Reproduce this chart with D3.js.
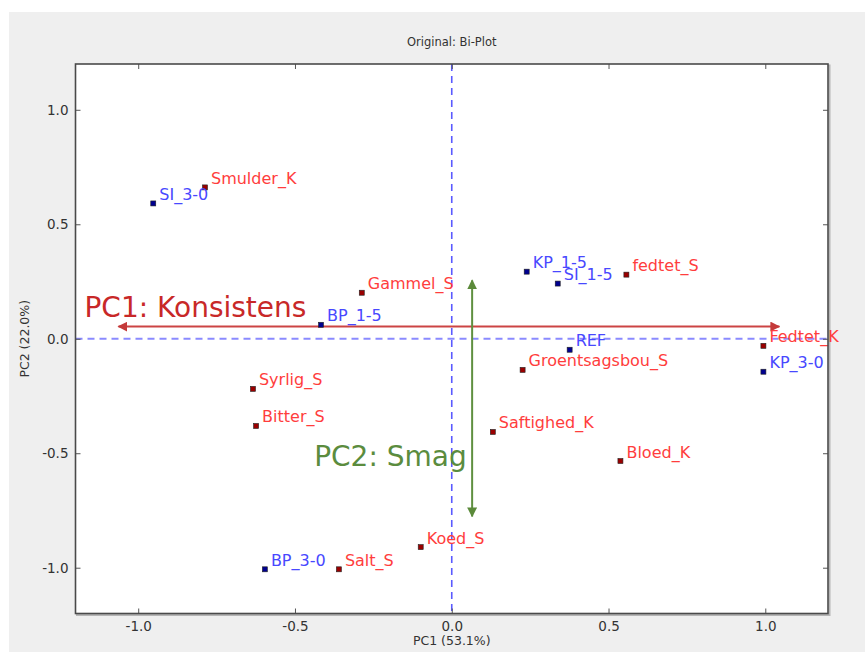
<!DOCTYPE html>
<html>
<head>
<meta charset="utf-8">
<script src="https://cdn.jsdelivr.net/npm/d3@7"></script>
<style>
  body { margin: 0; background: #ffffff; }
  text { font-family: "DejaVu Sans", sans-serif; }
</style>
</head>
<body>
<div class="chartbox"></div>
<script>
// scores (samples) - blue
var scoreNames = ["SI_3-0", "BP_1-5", "KP_1-5", "SI_1-5", "REF", "KP_3-0", "BP_3-0"];
var scoreX = [-0.952, -0.417, 0.239, 0.338, 0.376, 0.994, -0.596];
var scoreY = [0.591, 0.061, 0.293, 0.241, -0.048, -0.144, -1.007];

// loadings (attributes) - red
var loadNames = ["Smulder_K", "Gammel_S", "fedtet_S", "Fedtet_K", "Groentsagsbou_S", "Syrlig_S",
                 "Bitter_S", "Saftighed_K", "Bloed_K", "Koed_S", "Salt_S"];
var loadX = [-0.787, -0.287, 0.557, 0.994, 0.226, -0.634, -0.624, 0.131, 0.538, -0.099, -0.360];
var loadY = [0.661, 0.201, 0.280, -0.031, -0.136, -0.219, -0.381, -0.407, -0.534, -0.910, -1.007];

// annotation arrows
var pc1Arrow = [[-1.063, 0.053], [1.045, 0.053]];
var pc2Arrow = [[0.065, 0.255], [0.065, -0.776]];

var tickValues = [-1.0, -0.5, 0.0, 0.5, 1.0];
var axisLimits = [-1.2, 1.2];

var width = 865, height = 652;
var pLeft = 75.5, pRight = 828, pTop = 64, pBottom = 613.5;

var svg = d3.select(".chartbox")
    .append("svg")
    .attr("width", width)
    .attr("height", height);

// figure background
svg.append("rect")
    .attr("x", 9).attr("y", 12)
    .attr("width", width - 9).attr("height", height - 12)
    .style("fill", "#efefef");

var x = d3.scaleLinear().domain(axisLimits).range([pLeft, pRight]);
var y = d3.scaleLinear().domain(axisLimits).range([pBottom, pTop]);

// plot area with a soft shadow on the frame
svg.append("rect")
    .attr("x", pLeft + 1.5).attr("y", pTop + 1.5)
    .attr("width", pRight - pLeft).attr("height", pBottom - pTop)
    .style("fill", "none").style("stroke", "#b5b5b5").style("stroke-width", 2);
svg.append("rect")
    .attr("x", pLeft).attr("y", pTop)
    .attr("width", pRight - pLeft).attr("height", pBottom - pTop)
    .style("fill", "#ffffff");

// zero lines
svg.append("line")
    .attr("x1", x(0)).attr("x2", x(0))
    .attr("y1", pTop).attr("y2", pBottom)
    .style("stroke", "#5a5aff").style("stroke-width", 1.6)
    .style("stroke-dasharray", "7,5");
svg.append("line")
    .attr("x1", pLeft).attr("x2", pRight)
    .attr("y1", y(0)).attr("y2", y(0))
    .style("stroke", "#8a8aff").style("stroke-width", 2)
    .style("stroke-dasharray", "7,5");

// arrow heads
var defs = svg.append("defs");
function addHead(id, color) {
  defs.append("marker")
      .attr("id", id)
      .attr("viewBox", "0 0 10 10")
      .attr("refX", 9).attr("refY", 5)
      .attr("markerWidth", 5).attr("markerHeight", 5)
      .attr("markerUnits", "strokeWidth")
      .attr("orient", "auto-start-reverse")
      .append("path")
      .attr("d", "M0,0 L10,5 L0,10 Z")
      .style("fill", color);
}
addHead("headRed", "#c43a3a");
addHead("headGreen", "#5b8a3a");

svg.append("line")
    .attr("x1", x(pc1Arrow[0][0])).attr("y1", y(pc1Arrow[0][1]))
    .attr("x2", x(pc1Arrow[1][0])).attr("y2", y(pc1Arrow[1][1]))
    .style("stroke", "#cc4444").style("stroke-width", 2)
    .attr("marker-start", "url(#headRed)")
    .attr("marker-end", "url(#headRed)");

svg.append("line")
    .attr("x1", x(pc2Arrow[0][0])).attr("y1", y(pc2Arrow[0][1]))
    .attr("x2", x(pc2Arrow[1][0])).attr("y2", y(pc2Arrow[1][1]))
    .style("stroke", "#5f9040").style("stroke-width", 2)
    .attr("marker-start", "url(#headGreen)")
    .attr("marker-end", "url(#headGreen)");

svg.append("text")
    .attr("x", x(pc1Arrow[0][0]) - 34).attr("y", y(pc1Arrow[0][1]) - 10)
    .style("font-size", "28px").style("fill", "#c82828")
    .text("PC1: Konsistens");

svg.append("text")
    .attr("x", x(pc2Arrow[0][0]) - 158).attr("y", y(-0.555))
    .style("font-size", "28px").style("fill", "#5b8c3e")
    .text("PC2: Smag");

// points + labels
var scores = scoreNames.map(function(d, i) { return {name: d, x: scoreX[i], y: scoreY[i]}; });
var loads = loadNames.map(function(d, i) { return {name: d, x: loadX[i], y: loadY[i]}; });

function drawPoints(data, fill, labelColor) {
  var g = svg.append("g");
  g.selectAll("rect")
      .data(data)
      .enter()
      .append("rect")
      .attr("x", function(d) { return x(d.x) - 2.5; })
      .attr("y", function(d) { return y(d.y) - 2.5; })
      .attr("width", 5).attr("height", 5)
      .style("fill", fill)
      .style("stroke", "#222").style("stroke-width", 0.6);
  g.selectAll("text")
      .data(data)
      .enter()
      .append("text")
      .attr("x", function(d) { return x(d.x) + 6; })
      .attr("y", function(d) { return y(d.y) - 3.5; })
      .style("font-size", "16px")
      .style("fill", labelColor)
      .text(function(d) { return d.name; });
}
drawPoints(loads, "#9a0000", "#ff3d3d");
drawPoints(scores, "#00008f", "#4848ff");

// axes, ticks pointing inside on all four sides
var fmt = function(d) { return d.toFixed(1); };
var xb = svg.append("g").attr("transform", "translate(0," + pBottom + ")")
    .call(d3.axisBottom(x).tickValues(tickValues).tickFormat(fmt)
      .tickSizeInner(-5).tickSizeOuter(0).tickPadding(8));
var yl = svg.append("g").attr("transform", "translate(" + pLeft + ",0)")
    .call(d3.axisLeft(y).tickValues(tickValues).tickFormat(fmt)
      .tickSizeInner(-5).tickSizeOuter(0).tickPadding(7));
var xt = svg.append("g").attr("transform", "translate(0," + pTop + ")")
    .call(d3.axisTop(x).tickValues(tickValues).tickFormat("")
      .tickSizeInner(-5).tickSizeOuter(0));
var yr = svg.append("g").attr("transform", "translate(" + pRight + ",0)")
    .call(d3.axisRight(y).tickValues(tickValues).tickFormat("")
      .tickSizeInner(-5).tickSizeOuter(0));

[xb, yl, xt, yr].forEach(function(a) {
  a.select(".domain").remove();
  a.selectAll("line").style("stroke", "#555");
  a.selectAll("text")
      .style("font-family", "DejaVu Sans, sans-serif")
      .style("font-size", "13.5px")
      .style("fill", "#333");
});

// frame
svg.append("rect")
    .attr("x", pLeft).attr("y", pTop)
    .attr("width", pRight - pLeft).attr("height", pBottom - pTop)
    .style("fill", "none").style("stroke", "#4a4a4a").style("stroke-width", 1.6);

// titles
svg.append("text")
    .attr("x", (pLeft + pRight) / 2).attr("y", 46)
    .attr("text-anchor", "middle")
    .style("font-size", "11.5px").style("fill", "#333")
    .text("Original: Bi-Plot");

svg.append("text")
    .attr("x", (pLeft + pRight) / 2).attr("y", 645)
    .attr("text-anchor", "middle")
    .style("font-size", "12.5px").style("fill", "#333")
    .text("PC1 (53.1%)");

svg.append("text")
    .attr("transform", "translate(29," + y(0) + ") rotate(-90)")
    .attr("text-anchor", "middle")
    .style("font-size", "12.5px").style("fill", "#333")
    .text("PC2 (22.0%)");
</script>
</body>
</html>
